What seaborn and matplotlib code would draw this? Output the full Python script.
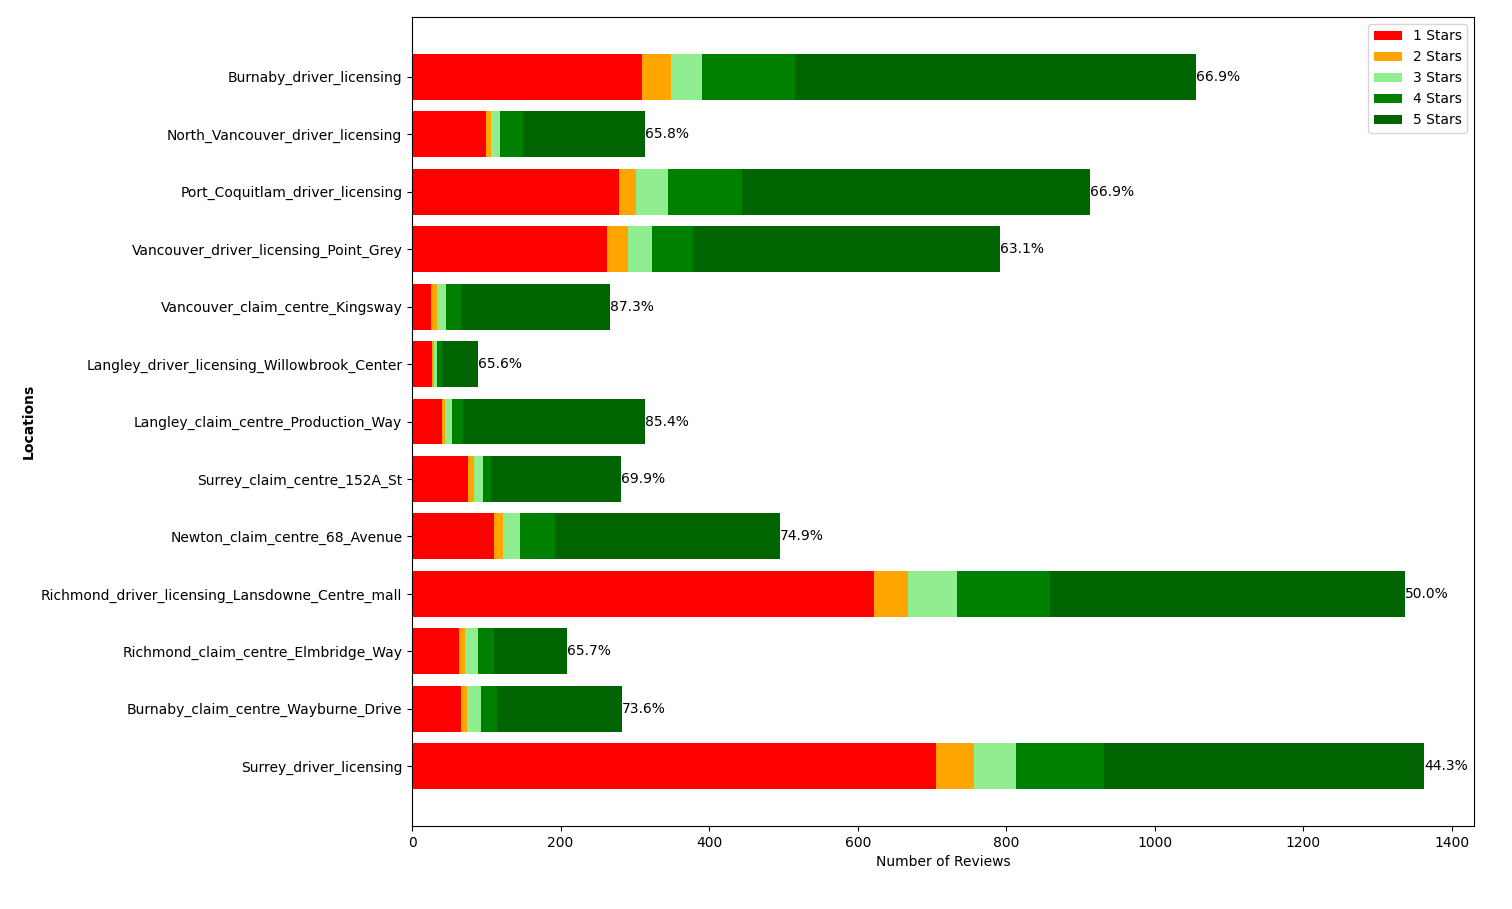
import matplotlib
matplotlib.use("Agg")
import matplotlib.pyplot as plt
import numpy as np
import pandas as pd
import seaborn as sns

# ── Data (top to bottom as shown) ──
locations = [
    "Burnaby_driver_licensing",
    "North_Vancouver_driver_licensing",
    "Port_Coquitlam_driver_licensing",
    "Vancouver_driver_licensing_Point_Grey",
    "Vancouver_claim_centre_Kingsway",
    "Langley_driver_licensing_Willowbrook_Center",
    "Langley_claim_centre_Production_Way",
    "Surrey_claim_centre_152A_St",
    "Newton_claim_centre_68_Avenue",
    "Richmond_driver_licensing_Lansdowne_Centre_mall",
    "Richmond_claim_centre_Elmbridge_Way",
    "Burnaby_claim_centre_Wayburne_Drive",
    "Surrey_driver_licensing",
]
stars_1 = [309, 99, 278, 263, 26, 27, 40, 76, 111, 622, 63, 66, 705]
stars_2 = [40, 8, 23, 28, 7, 3, 4, 8, 12, 46, 8, 8, 52]
stars_3 = [42, 12, 43, 32, 13, 4, 10, 11, 23, 66, 18, 19, 56]
stars_4 = [124, 30, 100, 55, 20, 7, 15, 12, 47, 125, 22, 22, 119]
stars_5 = [541, 164, 469, 413, 200, 48, 245, 175, 302, 478, 98, 168, 431]
pct_labels = ["66.9%", "65.8%", "66.9%", "63.1%", "87.3%", "65.6%", "85.4%",
              "69.9%", "74.9%", "50.0%", "65.7%", "73.6%", "44.3%"]

star_names = ["1 Stars", "2 Stars", "3 Stars", "4 Stars", "5 Stars"]
star_colors = ["red", "orange", "lightgreen", "green", "darkgreen"]

df = pd.DataFrame({
    "location": locations,
    "1 Stars": stars_1, "2 Stars": stars_2, "3 Stars": stars_3,
    "4 Stars": stars_4, "5 Stars": stars_5,
})
cum = df[star_names].cumsum(axis=1)

fig = plt.figure(figsize=(15.12, 9.09), dpi=100)
ax = fig.add_axes([0.2725, 0.0913, 0.7025, 0.8900])

# draw cumulative totals from the largest down so each layer shows its segment
for name, color in reversed(list(zip(star_names, star_colors))):
    sns.barplot(x=cum[name], y=df["location"], color=color, orient="h",
                width=0.8, saturation=1, label=name, ax=ax)

totals = cum["5 Stars"].values
for i, (tot, lab) in enumerate(zip(totals, pct_labels)):
    ax.text(tot, i, lab, ha="left", va="center", fontsize=10)

n = len(locations)
ax.set_ylim(n - 1 + 1.04, -1.04)
ax.set_xlim(0, 1430)
ax.set_xticks(np.arange(0, 1401, 200))
ax.set_xlabel("Number of Reviews", fontsize=10)
ax.set_ylabel("Locations", fontsize=10, fontweight="bold")

handles, labels = ax.get_legend_handles_labels()
order = sorted(range(len(labels)), key=lambda k: labels[k])
ax.legend([handles[k] for k in order], [labels[k] for k in order],
          loc="upper right", fontsize=10)

fig.savefig("out.png", dpi=100)
plt.close(fig)
